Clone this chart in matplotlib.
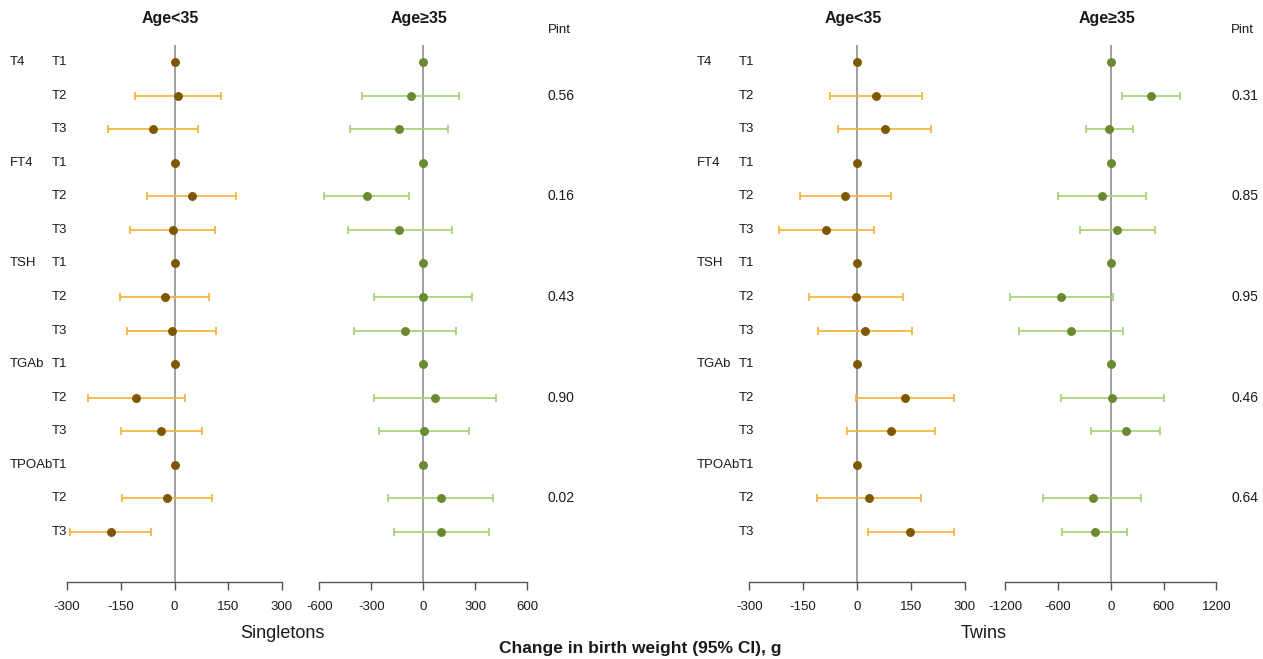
import numpy as np
import matplotlib
matplotlib.use("Agg")
import matplotlib.pyplot as plt

plt.rcParams['font.family'] = ['Liberation Sans', 'DejaVu Sans']

groups = ["T4", "FT4", "TSH", "TGAb", "TPOAb"]
tertiles = ["T1", "T2", "T3"]

# Singletons, Age<35
s_young_est = [0, 11, -59, 0, 48, -5, 0, -27, -8, 0, -107, -37, 0, -21, -178]
s_young_lo = [0, -110, -185, 0, -76, -124, 0, -152, -132, 0, -241, -150, 0, -147, -291]
s_young_hi = [0, 130, 66, 0, 172, 114, 0, 97, 117, 0, 29, 76, 0, 105, -65]

# Singletons, Age>=35
s_old_est = [0, -71, -140, 0, -327, -138, 0, 0, -106, 0, 67, 4, 0, 102, 104]
s_old_lo = [0, -353, -421, 0, -573, -434, 0, -283, -398, 0, -283, -256, 0, -202, -169]
s_old_hi = [0, 208, 141, 0, -83, 164, 0, 281, 187, 0, 421, 265, 0, 404, 379]

# Twins, Age<35
t_young_est = [0, 54, 77, 0, -33, -86, 0, -3, 23, 0, 134, 96, 0, 33, 149]
t_young_lo = [0, -76, -54, 0, -160, -216, 0, -135, -108, 0, -3, -27, 0, -112, 30]
t_young_hi = [0, 182, 206, 0, 94, 46, 0, 128, 153, 0, 271, 218, 0, 178, 270]

# Twins, Age>=35 (TPOAb T1 not shown)
t_old_est = [0, 452, -15, 0, -102, 73, 0, -569, -458, 0, 19, 171, np.nan, -208, -185]
t_old_lo = [0, 122, -280, 0, -603, -348, 0, -1149, -1042, 0, -569, -220, np.nan, -766, -557]
t_old_hi = [0, 782, 250, 0, 403, 501, 0, 23, 137, 0, 603, 557, np.nan, 349, 186]

s_pint = ["0.56", "0.16", "0.43", "0.90", "0.02"]
t_pint = ["0.31", "0.85", "0.95", "0.46", "0.64"]

s_young_ticks = [-300, -150, 0, 150, 300]
s_old_ticks = [-600, -300, 0, 300, 600]
t_young_ticks = [-300, -150, 0, 150, 300]
t_old_ticks = [-1200, -600, 0, 600, 1200]

W, H = 1263, 659
fig = plt.figure(figsize=(W / 100, H / 100), dpi=100)

def fx(px):
    return px / W

def fy(py):
    return 1 - py / H

top_px, bot_px = 45, 582
row0_px, rowN_px = 62, 532
n = 15
step = (rowN_px - row0_px) / (n - 1)
ylim_top = -(row0_px - top_px) / step
ylim_bot = (n - 1) + (bot_px - rowN_px) / step

BROWN = "#7D5800"
ORANGE = "#F5B43A"
GREEN = "#6A8A2F"
LGREEN = "#A6D377"
TXT = "#1a1a1a"

panels = [
    (67, 282, s_young_est, s_young_lo, s_young_hi, s_young_ticks, BROWN, ORANGE, "Age<35"),
    (319.3, 527.3, s_old_est, s_old_lo, s_old_hi, s_old_ticks, GREEN, LGREEN, "Age\u226535"),
    (749.3, 964.7, t_young_est, t_young_lo, t_young_hi, t_young_ticks, BROWN, ORANGE, "Age<35"),
    (1005.3, 1216.3, t_old_est, t_old_lo, t_old_hi, t_old_ticks, GREEN, LGREEN, "Age\u226535"),
]

rows = np.arange(n)
for x0, x1, est, lo, hi, ticks, mc, ec, title in panels:
    ax = fig.add_axes([fx(x0), fy(bot_px), fx(x1) - fx(x0), (bot_px - top_px) / H])
    est = np.array(est, dtype=float)
    lo = np.array(lo, dtype=float)
    hi = np.array(hi, dtype=float)
    ax.axvline(0, color="#9a9a9a", lw=1.3, zorder=1)
    has_ci = (hi - lo) > 0
    ax.errorbar(est[has_ci], rows[has_ci], xerr=[est[has_ci] - lo[has_ci], hi[has_ci] - est[has_ci]],
                fmt="none", ecolor=ec, elinewidth=1.25, capsize=3.2, capthick=1.25, zorder=2)
    ax.plot(est, rows, "o", color=mc, ms=5.4, zorder=3, linestyle="none")
    ax.set_xlim(ticks[0], ticks[-1])
    ax.set_ylim(ylim_bot, ylim_top)
    ax.set_xticks(ticks)
    ax.set_xticklabels([str(t) for t in ticks])
    ax.set_yticks([])
    for s in ["top", "left", "right"]:
        ax.spines[s].set_visible(False)
    ax.spines["bottom"].set_color("#555555")
    ax.spines["bottom"].set_linewidth(1.0)
    ax.tick_params(axis="x", direction="out", length=6, width=1.0, color="#555555",
                   labelsize=9.5, pad=8, labelcolor=TXT)
    ax.patch.set_alpha(0)
    fig.text(fx((x0 + x1) / 2) - 0.003, fy(19), title, ha="center", va="center",
             fontsize=11.5, fontweight="bold", color=TXT)

# row labels
for base_x in (10, 697):
    for gi, g in enumerate(groups):
        for ti, t in enumerate(tertiles):
            r = gi * 3 + ti
            ypx = row0_px + r * step
            if ti == 0:
                fig.text(fx(base_x), fy(ypx), g, ha="left", va="center", fontsize=9.5, color=TXT)
            fig.text(fx(base_x + 42), fy(ypx), t, ha="left", va="center", fontsize=9.5, color=TXT)

# Pint
for px, vals in ((548, s_pint), (1231, t_pint)):
    fig.text(fx(px), fy(30), "Pint", ha="left", va="center", fontsize=9.5, color=TXT)
    for gi, v in enumerate(vals):
        ypx = row0_px + (gi * 3 + 1) * step
        fig.text(fx(px), fy(ypx), v, ha="left", va="center", fontsize=10, color=TXT)

fig.text(fx(282), fy(634), "Singletons", ha="center", va="center", fontsize=13, color=TXT)
fig.text(fx(984), fy(634), "Twins", ha="center", va="center", fontsize=13, color=TXT)
fig.text(fx(640), fy(648), "Change in birth weight (95% CI), g", ha="center", va="center",
         fontsize=12.5, fontweight="bold", color=TXT)

fig.savefig("out.png", dpi=100)
